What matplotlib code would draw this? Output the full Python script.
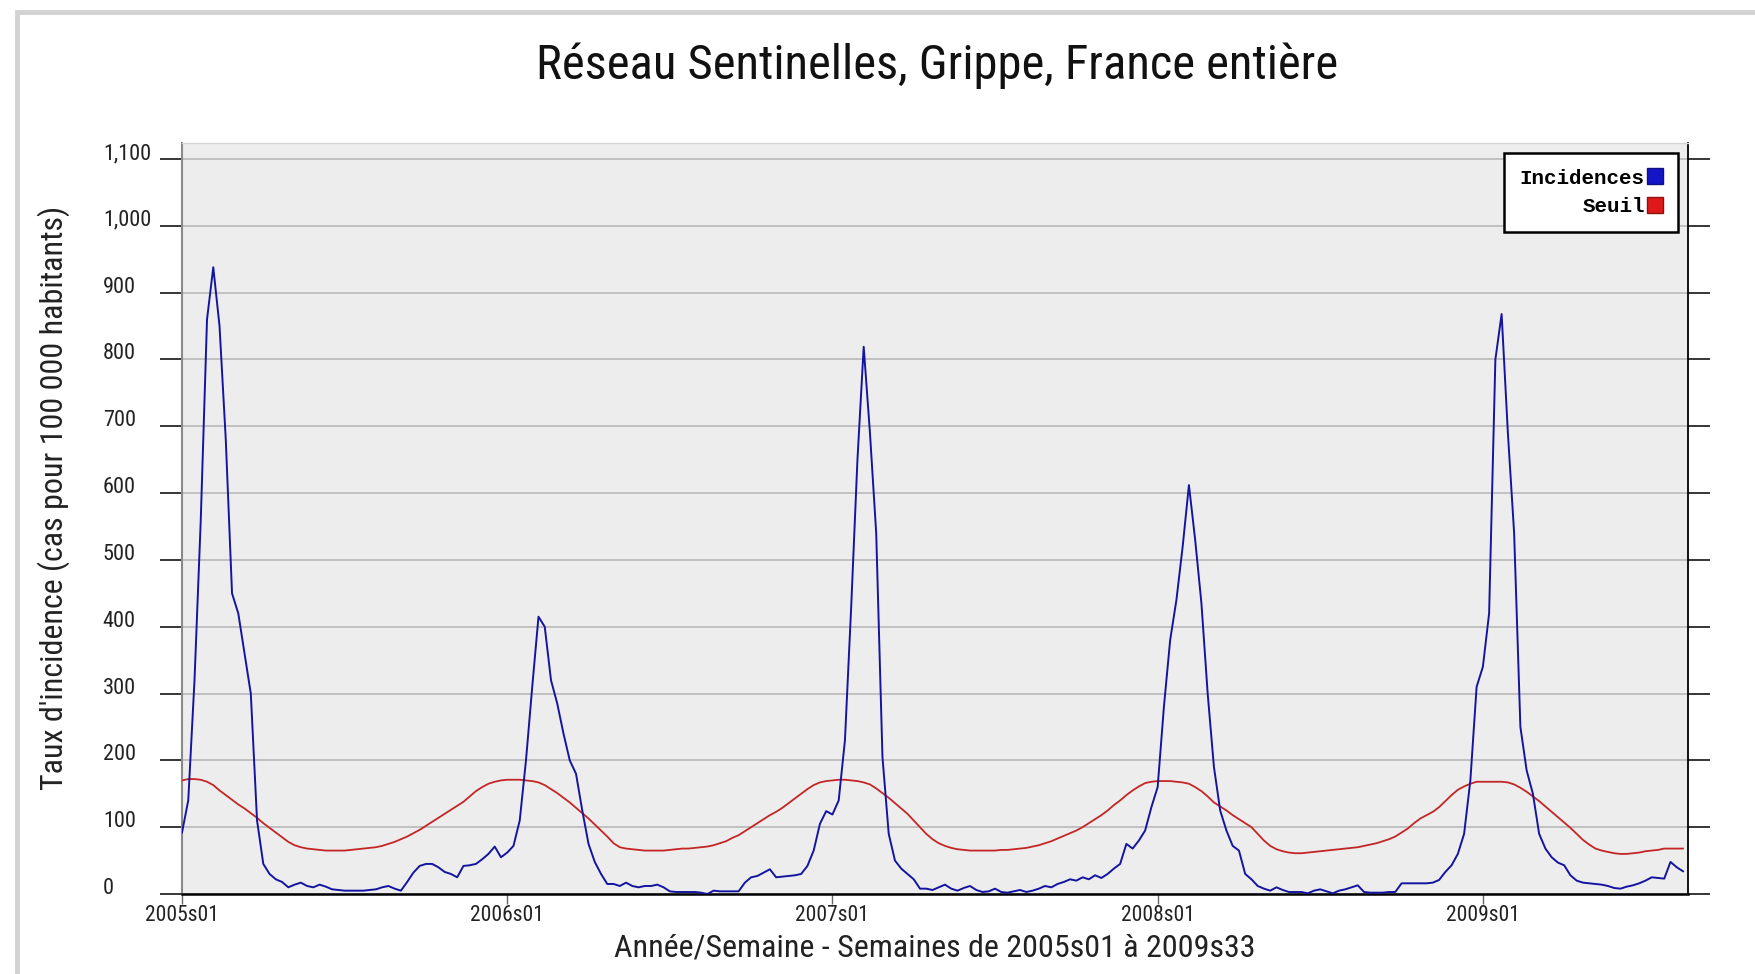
import numpy as np
import matplotlib
matplotlib.use("Agg")
import matplotlib.pyplot as plt
from matplotlib import font_manager
from matplotlib.lines import Line2D
from matplotlib.patches import Rectangle

# weekly data, 2005s01 .. 2009s33
years = [2005, 2006, 2007, 2008, 2009]
weeks_per_year = [52, 52, 52, 52, 33]

incidence = [
    92, 140, 320, 560, 860,
    938, 850, 680, 450, 420,
    360, 300, 110, 45, 30,
    22, 18, 10, 14, 17,
    12, 10, 14, 11, 7,
    6, 5, 5, 5, 5,
    6, 7, 10, 12, 8,
    5, 18, 32, 42, 45,
    45, 40, 33, 30, 25,
    42, 43, 45, 52, 60,
    71, 55, 62, 72, 110,
    200, 310, 415, 400, 320,
    285, 240, 200, 180, 125,
    75, 48, 30, 15, 15,
    12, 17, 12, 10, 12,
    12, 14, 10, 4, 3,
    3, 3, 3, 2, 0,
    5, 4, 4, 4, 4,
    17, 25, 27, 32, 37,
    25, 26, 27, 28, 30,
    42, 65, 105, 124, 119,
    140, 230, 430, 650, 819,
    690, 540, 205, 90, 50,
    38, 30, 22, 8, 8,
    6, 10, 14, 8, 5,
    9, 12, 6, 3, 4,
    8, 3, 2, 4, 6,
    3, 5, 8, 12, 10,
    15, 18, 22, 20, 25,
    22, 28, 24, 30, 38,
    45, 75, 68, 80, 95,
    130, 160, 280, 380, 440,
    520, 612, 530, 435, 300,
    190, 125, 95, 72, 65,
    30, 22, 12, 8, 5,
    10, 6, 3, 3, 3,
    1, 5, 7, 4, 1,
    5, 7, 10, 13, 3,
    2, 2, 2, 3, 3,
    16, 16, 16, 16, 16,
    17, 21, 33, 43, 60,
    90, 170, 310, 340, 420,
    800, 868, 690, 540, 250,
    185, 150, 90, 68, 55,
    47, 43, 28, 20, 17,
    16, 15, 14, 12, 9,
    8, 11, 13, 16, 20,
    25, 24, 23, 48, 40,
    34,
]

seuil = [
    170, 172, 172, 171, 168,
    163, 155, 148, 141, 134,
    128, 121, 114, 106, 99,
    92, 85, 78, 73, 70,
    68, 67, 66, 65, 65,
    65, 65, 66, 67, 68,
    69, 70, 72, 75, 78,
    82, 86, 91, 96, 102,
    108, 114, 120, 126, 132,
    138, 146, 154, 160, 165,
    168, 170, 171, 171, 171,
    170, 169, 167, 163, 157,
    151, 144, 137, 129, 121,
    113, 104, 95, 86, 76,
    70, 68, 67, 66, 65,
    65, 65, 65, 66, 67,
    68, 68, 69, 70, 71,
    73, 76, 79, 84, 88,
    94, 100, 106, 112, 118,
    123, 129, 136, 143, 150,
    157, 163, 167, 169, 170,
    171, 171, 170, 169, 167,
    164, 158, 151, 144, 136,
    128, 120, 110, 100, 90,
    82, 76, 72, 69, 67,
    66, 65, 65, 65, 65,
    65, 66, 66, 67, 68,
    69, 71, 73, 76, 79,
    83, 87, 91, 95, 100,
    106, 112, 118, 125, 133,
    140, 148, 155, 161, 166,
    168, 169, 169, 169, 168,
    167, 165, 160, 154, 146,
    137, 131, 125, 118, 112,
    106, 100, 90, 80, 72,
    67, 64, 62, 61, 61,
    62, 63, 64, 65, 66,
    67, 68, 69, 70, 72,
    74, 76, 79, 82, 86,
    92, 98, 106, 113, 118,
    123, 130, 139, 148, 156,
    161, 165, 168, 168, 168,
    168, 168, 167, 164, 159,
    153, 146, 139, 131, 123,
    115, 107, 99, 90, 81,
    74, 68, 65, 63, 61,
    60, 60, 61, 62, 64,
    65, 66, 68, 68, 68,
    68,
]

week_labels = ["%ds%02d" % (y, w) for y, n in zip(years, weeks_per_year)
               for w in range(1, n + 1)]
x = np.arange(len(week_labels))
tick_pos = [i for i, s in enumerate(week_labels) if s.endswith("s01")]
tick_lab = [week_labels[i] for i in tick_pos]

avail = {f.name for f in font_manager.fontManager.ttflist}
narrow = next((f for f in ["Liberation Sans Narrow", "Roboto Condensed", "Roboto"]
               if f in avail), "DejaVu Sans")
mono = "Liberation Mono" if "Liberation Mono" in avail else "DejaVu Sans Mono"

W, H = 1756, 974
fig = plt.figure(figsize=(W / 100, H / 100), dpi=100)
fig.patch.set_facecolor("white")

# thin grey frame of the original page
fig.patches.append(Rectangle((17 / W, -0.1), 2, 1 - 12 / H + 0.1, transform=fig.transFigure,
                             fill=False, ec="#D2D2D2", lw=3.5))

ax = fig.add_axes([182 / W, 1 - 894 / H, 1506 / W, 751 / H])
ax.set_facecolor("#EDEDED")

ax.plot(x, seuil, color="#C42525", lw=1.3, zorder=3)
ax.plot(x, incidence, color="#1414A0", lw=1.4, zorder=4)

ax.set_xlim(0, 240.8)
ax.set_ylim(0, 1124)

yt = np.arange(0, 1101, 100)
ax.set_yticks(yt)
ax.set_yticklabels(["{:,}".format(v) for v in yt], fontsize=16, family=narrow,
                   color="#222222")
for lab in ax.get_yticklabels():
    lab.set_horizontalalignment("left")
    lab.set_verticalalignment("baseline")
ax.tick_params(axis="y", which="both", direction="out", length=16, width=1.1,
               color="black", pad=41, right=True)
ax.grid(axis="y", color="#BDBDBD", lw=1.3, zorder=1)
ax.set_axisbelow(True)

ax.set_xticks(tick_pos)
ax.set_xticklabels(tick_lab, fontsize=15.5, family=narrow, color="#222222")
ax.tick_params(axis="x", direction="out", length=7, width=1.0, color="#666666", pad=1)

ax.spines["left"].set_color("#8A8A8A")
ax.spines["left"].set_linewidth(1.5)
ax.spines["bottom"].set_color("black")
ax.spines["bottom"].set_linewidth(1.8)
ax.spines["right"].set_color("black")
ax.spines["right"].set_linewidth(1.3)
ax.spines["top"].set_color("#D5D5D5")
ax.spines["top"].set_linewidth(1.0)

ax.set_ylabel("Taux d'incidence (cas pour 100 000 habitants)", fontsize=23,
              family=narrow, color="#222222")
ax.yaxis.set_label_coords(-0.0745, 0.527)
ax.set_xlabel("Année/Semaine - Semaines de 2005s01 à 2009s33", fontsize=23,
              family=narrow, color="#222222", labelpad=5)

fig.text(937 / W, 1 - 79 / H, "Réseau Sentinelles, Grippe, France entière",
         ha="center", va="baseline", fontsize=35, family=narrow, color="#111111")

handles = [Line2D([], [], ls="none", marker="s", markersize=11, color="#1414C8",
                  markeredgecolor="#101080"),
           Line2D([], [], ls="none", marker="s", markersize=11, color="#E01818",
                  markeredgecolor="#901010")]
leg = ax.legend(handles, ["Incidences", "Seuil"], loc="upper right",
                bbox_to_anchor=(0.9934, 0.9867), borderaxespad=0, markerfirst=False,
                frameon=True, fancybox=False, edgecolor="black", framealpha=1,
                prop={"family": mono, "size": 15, "weight": "bold"}, handlelength=0.7,
                handletextpad=0.15, borderpad=0.75, labelspacing=0.45)
leg.get_frame().set_linewidth(1.8)

fig.savefig("out.png", dpi=100)
